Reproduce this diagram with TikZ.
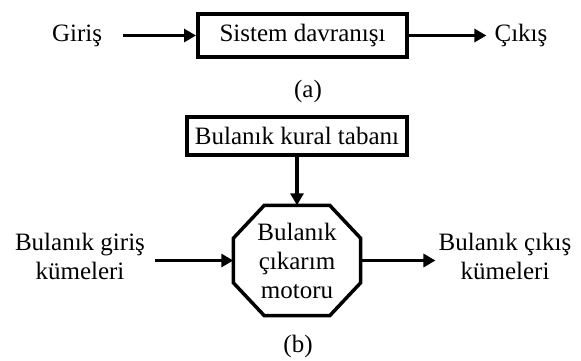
\documentclass[tikz,border=0pt]{standalone}
\usepackage{fontspec}
\setmainfont{Liberation Serif}
\usetikzlibrary{arrows.meta,calc}
\begin{document}
\begin{tikzpicture}[x=1pt,y=-1pt,
  every node/.style={font=\fontsize{25}{29.5}\selectfont, inner sep=3pt},
  boxnode/.style={draw, line width=4pt, inner sep=0pt},
  arr/.style={line width=3.5pt, -{Triangle[length=12pt,width=13pt]}},
  octline/.style={line width=3.5pt, line join=miter}
]
\useasboundingbox (0,0) rectangle (581,360);
% (a)
\node[boxnode, minimum width=209pt, minimum height=43pt] (boxA) at (302.5,35.5) {Sistem davranışı};
\node[anchor=base] (giris) at (77,41) {Giriş};
\node[anchor=base] (cikis) at (521,41) {Çıkış};
\node[anchor=base] (labA) at (308,97) {(a)};
\draw[arr, shorten <=18pt] (giris.east |- boxA.west) -- (boxA.west);
\draw[arr, shorten >=5pt] (boxA.east) -- (cikis.west |- boxA.east);
% (b)
\node[boxnode, minimum width=220pt, minimum height=38pt] (boxB) at (297,136) {Bulanık kural tabanı};
\node[minimum width=127pt, minimum height=110pt, align=center, font=\fontsize{25}{29}\selectfont] (oct) at (297,260.5) {Bulanık\\çıkarım\\motoru};
\draw[octline] ($(oct.north west)+(31,0)$) -- ($(oct.north east)+(-31,0)$)
  -- ($(oct.north east)+(0,33)$) -- ($(oct.south east)+(0,-33)$)
  -- ($(oct.south east)+(-31,0)$) -- ($(oct.south west)+(31,0)$)
  -- ($(oct.south west)+(0,-33)$) -- ($(oct.north west)+(0,33)$) -- cycle;
\node[align=center] (inL) at (80,256.5) {Bulanık giriş\\kümeleri};
\node[align=center] (outR) at (505,256.5) {Bulanık çıkış\\kümeleri};
\node[anchor=base] (labB) at (298,352) {(b)};
\draw[arr] (boxB.south) -- (oct.north);
\draw[arr, shorten <=7pt] (inL.east |- oct.west) -- (oct.west);
\draw[arr] (oct.east) -- (outR.west |- oct.east);
\end{tikzpicture}
\end{document}
